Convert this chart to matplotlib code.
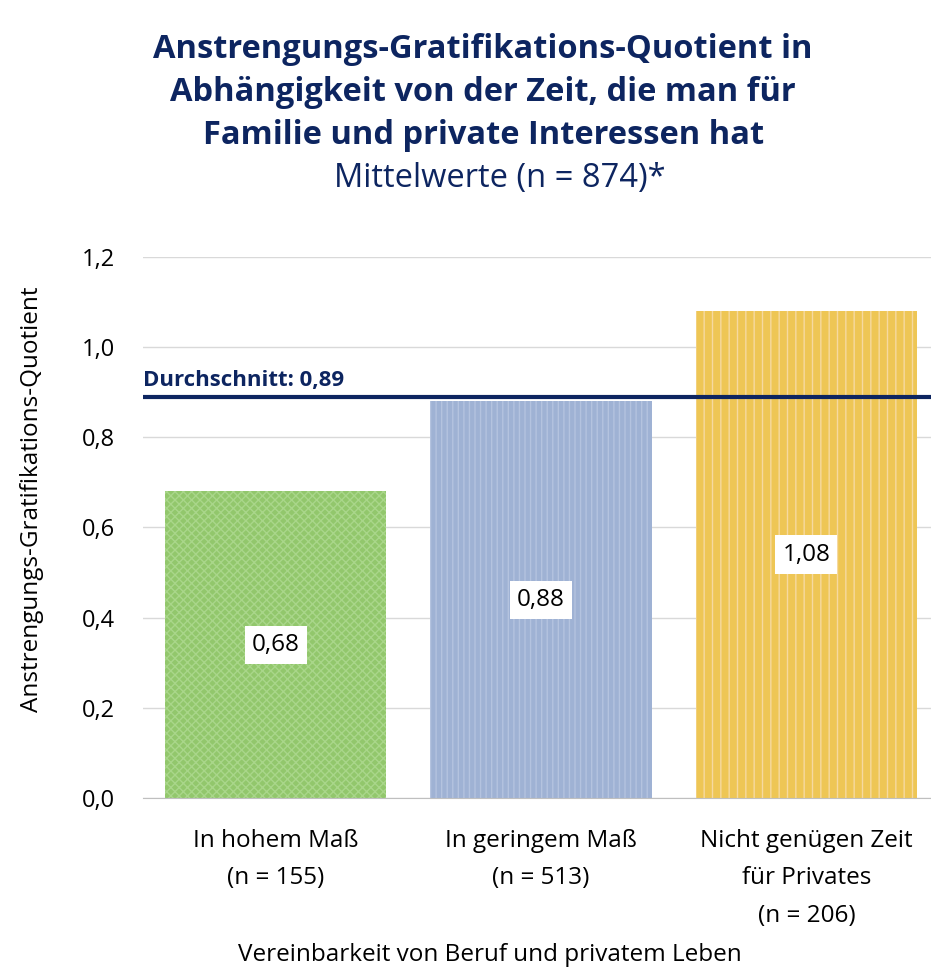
import matplotlib.pyplot as plt

# data
categories = ['In hohem Maß\n(n = 155)', 'In geringem Maß\n(n = 513)', 'Nicht genügen Zeit\nfür Privates\n(n = 206)']
values = [0.68, 0.88, 1.08]
value_labels = ['0,68', '0,88', '1,08']
average = 0.89
yticks = [0.0, 0.2, 0.4, 0.6, 0.8, 1.0, 1.2]
ytick_labels = ['0,0', '0,2', '0,4', '0,6', '0,8', '1,0', '1,2']
title_lines = ['Anstrengungs-Gratifikations-Quotient in',
               'Abhängigkeit von der Zeit, die man für',
               'Familie und private Interessen hat']

bar_colors = ['#92c76c', '#9fb2d4', '#eec655']
hatch_colors = ['#a9d68a', '#b4c3df', '#f6d9a0']
hatches = ['xxxx', '|||', '||']
navy = '#0d2560'

plt.rcParams['font.family'] = ['Open Sans', 'DejaVu Sans']
plt.rcParams['hatch.linewidth'] = 1.0

fig = plt.figure(figsize=(9.31, 9.75), dpi=100)
ax = fig.add_axes([0.1536, 0.1815, 0.855, 0.555])

x = range(len(values))
for i in x:
    ax.bar(i, values[i], width=0.834, color=bar_colors[i], edgecolor=hatch_colors[i],
           hatch=hatches[i], linewidth=0, zorder=2)
    ax.text(i, values[i] / 2, value_labels[i], ha='center', va='center', fontsize=17.5,
            bbox=dict(facecolor='white', edgecolor='none', pad=5), zorder=4)

ax.axhline(average, color=navy, linewidth=3, zorder=3)
ax.text(-0.5, average + 0.012, 'Durchschnitt: 0,89', color=navy, fontsize=16,
        fontweight='bold', ha='left', va='bottom', zorder=4)

ax.set_xlim(-0.5, 2.5)
ax.set_ylim(0, 1.2)
ax.set_yticks(yticks)
ax.set_yticklabels(ytick_labels, fontsize=17)
ax.set_xticks(list(x))
ax.set_xticklabels(categories, fontsize=17.5, linespacing=1.75, va='top')
ax.tick_params(axis='x', length=0, pad=22)
ax.tick_params(axis='y', length=0, pad=20)
ax.yaxis.grid(True, color='#d9d9d9', linewidth=1, zorder=0)
ax.set_axisbelow(True)
for s in ['top', 'right', 'left']:
    ax.spines[s].set_visible(False)
ax.spines['bottom'].set_color('#bfbfbf')

ax.set_ylabel('Anstrengungs-Gratifikations-Quotient', fontsize=17.5)
ax.yaxis.set_label_coords(-0.125, 0.553)
fig.text(0.526, 0.0205, 'Vereinbarkeit von Beruf und privatem Leben', ha='center', va='center', fontsize=17.5)

for k, line in enumerate(title_lines):
    fig.text(0.519, 1 - (50 + 42.7 * k) / 975, line, ha='center', va='center',
             fontsize=23.5, fontweight='bold', color=navy)
fig.text(0.537, 1 - 178 / 975, 'Mittelwerte (n = 874)*', ha='center', va='center', fontsize=23.5, color=navy)

fig.savefig('out.png', dpi=100)
